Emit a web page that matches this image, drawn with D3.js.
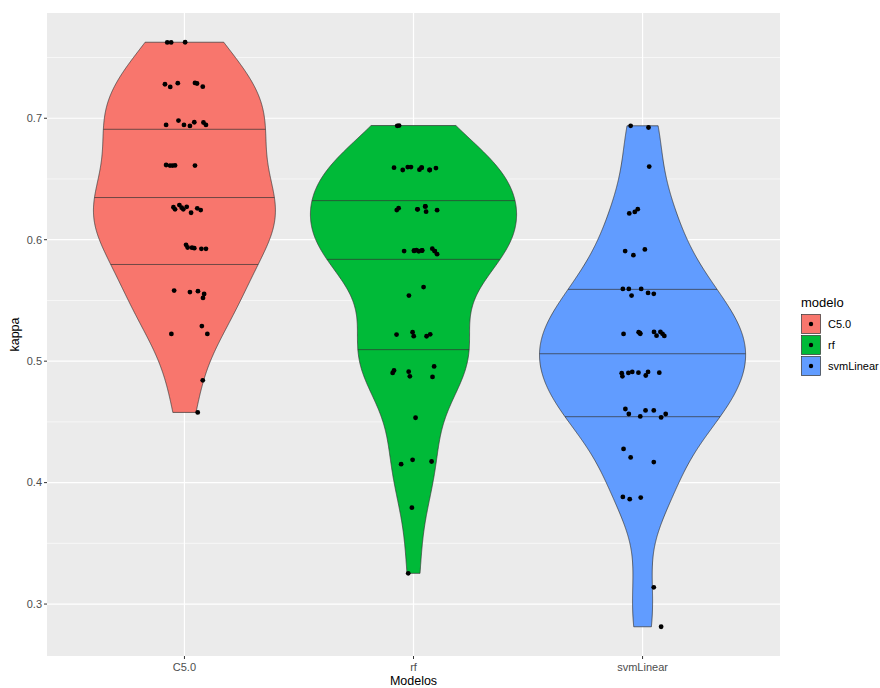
<!DOCTYPE html>
<html>
<head>
<meta charset="utf-8">
<script src="https://cdn.jsdelivr.net/npm/d3@7"></script>
<style>
  body { margin: 0; background: #ffffff; }
  text { font-family: "Liberation Sans", Arial, sans-serif; }
</style>
</head>
<body>
<svg id="chart" width="880" height="688"></svg>
<script>
// Models compared and their fill colours
const models = ["C5.0", "rf", "svmLinear"];
const fills = ["#F8766D", "#00BA38", "#619CFF"];

// Y axis ticks
const yMajor = [0.3, 0.4, 0.5, 0.6, 0.7];
const yMinor = [0.35, 0.45, 0.55, 0.65, 0.75];

// Resampled kappa values per model, with the horizontal jitter of each dot (in category steps)
const kappaC50 = [
  0.7624, 0.7624, 0.7626,
  0.7280, 0.7258, 0.7289, 0.7291, 0.7286, 0.7260,
  0.6945, 0.6981, 0.6945, 0.6937, 0.6967, 0.6965, 0.6945,
  0.6615, 0.6610, 0.6610, 0.6612, 0.6610,
  0.6268, 0.6250, 0.6285, 0.6264, 0.6250, 0.6271, 0.6222, 0.6258, 0.6244,
  0.5958, 0.5936, 0.5934, 0.5930, 0.5925, 0.5925,
  0.5581, 0.5569, 0.5576, 0.5553, 0.5521,
  0.5224, 0.5289, 0.5224,
  0.4842,
  0.4578
];
const jitterC50 = [
  -0.075, -0.058, 0.003,
  -0.085, -0.062, -0.029, 0.046, 0.055, 0.080,
  -0.080, -0.026, -0.002, 0.024, 0.043, 0.083, 0.094,
  -0.080, -0.063, -0.052, -0.041, 0.046,
  -0.048, -0.041, -0.022, -0.012, -0.005, 0.010, 0.029, 0.056, 0.071,
  0.007, 0.014, 0.033, 0.043, 0.074, 0.094,
  -0.045, 0.024, 0.059, 0.086, 0.081,
  -0.057, 0.076, 0.100,
  0.080,
  0.058
];

const kappaRf = [
  0.6938, 0.6940,
  0.6593, 0.6574, 0.6598, 0.6598, 0.6577, 0.6593, 0.6574, 0.6590, 0.6593, 0.6574,
  0.6244, 0.6260, 0.6250, 0.6274, 0.6231, 0.6243, 0.6250, 0.6274,
  0.5906, 0.5909, 0.5914, 0.5905, 0.5911, 0.5926, 0.5906, 0.5881, 0.5909, 0.5911, 0.5906,
  0.5610, 0.5540,
  0.5219, 0.5239, 0.5206, 0.5205, 0.5221,
  0.4923, 0.4903, 0.4913, 0.4875, 0.4957, 0.4870,
  0.4534,
  0.4152, 0.4188, 0.4174,
  0.3794,
  0.3253
];
const jitterRf = [
  -0.071, -0.063,
  -0.085, -0.047, -0.025, -0.011, 0.026, 0.035, 0.070, 0.098, 0.036, 0.071,
  -0.073, -0.065, 0.017, 0.051, 0.055, 0.103, 0.018, 0.052,
  -0.041, 0.002, 0.013, 0.023, 0.037, 0.082, 0.092, 0.103, 0.003, 0.038, 0.093,
  0.044, -0.020,
  -0.074, -0.004, 0.001, 0.057, 0.073,
  -0.085, -0.091, -0.021, -0.016, 0.090, 0.083,
  0.009,
  -0.054, -0.004, 0.079,
  -0.007,
  -0.023
];

const kappaSvm = [
  0.6938, 0.6924,
  0.6602,
  0.6216, 0.6229, 0.6251,
  0.5906, 0.5873, 0.5920,
  0.5595, 0.5595, 0.5540, 0.5595, 0.5562, 0.5554,
  0.5224, 0.5238, 0.5225, 0.5230, 0.5241, 0.5210, 0.5241, 0.5225, 0.5208,
  0.4901, 0.4875, 0.4903, 0.4911, 0.4905, 0.4882, 0.4911, 0.4905,
  0.4606, 0.4565, 0.4545, 0.4594, 0.4594, 0.4537, 0.4565,
  0.4277, 0.4207, 0.4169,
  0.3882, 0.3864, 0.3877,
  0.3138,
  0.2813
];
const jitterSvm = [
  -0.052, 0.026,
  0.029,
  -0.058, -0.034, -0.021,
  -0.076, -0.040, 0.010,
  -0.086, -0.060, -0.048, -0.006, 0.024, 0.049,
  -0.083, -0.017, -0.010, -0.011, 0.050, 0.061, 0.078, 0.087, 0.095,
  -0.091, -0.088, -0.062, -0.045, -0.018, 0.014, 0.024, 0.073,
  -0.075, -0.060, -0.010, 0.013, 0.049, 0.081, 0.101,
  -0.083, -0.052, 0.049,
  -0.086, -0.056, -0.008,
  0.049,
  0.081
];

const quantileProbs = [0.25, 0.5, 0.75];

const groups = [
  { model: models[0], fill: fills[0], kappa: kappaC50, jitter: jitterC50 },
  { model: models[1], fill: fills[1], kappa: kappaRf, jitter: jitterRf },
  { model: models[2], fill: fills[2], kappa: kappaSvm, jitter: jitterSvm }
];

const svg = d3.select("#chart");
const panel = { left: 47, right: 780, top: 13, bottom: 656 };

const allKappa = groups.flatMap(g => g.kappa);
const [kMin, kMax] = d3.extent(allKappa);
const pad = (kMax - kMin) * 0.05;

const x = d3.scalePoint().domain(models).range([panel.left, panel.right]).padding(0.6);
const y = d3.scaleLinear().domain([kMin - pad, kMax + pad]).range([panel.bottom, panel.top]);
const step = x.step();

// Gaussian kernel density with Silverman's rule-of-thumb bandwidth (bw.nrd0)
function bandwidth(values) {
  const s = [...values].sort(d3.ascending);
  const sd = d3.deviation(s);
  const iqr = (d3.quantile(s, 0.75) - d3.quantile(s, 0.25)) / 1.34;
  let lo = Math.min(sd, iqr);
  if (!(lo > 0)) lo = sd || 1;
  return 0.9 * lo * Math.pow(s.length, -0.2);
}
function densityCurve(values, n = 512) {
  const bw = bandwidth(values);
  const [a, b] = d3.extent(values);
  const norm = 1 / (values.length * bw * Math.sqrt(2 * Math.PI));
  return d3.range(n).map(i => {
    const v = a + (b - a) * i / (n - 1);
    let s = 0;
    for (const k of values) { const z = (v - k) / bw; s += Math.exp(-0.5 * z * z); }
    return { v, d: s * norm };
  });
}
groups.forEach(g => { g.dens = densityCurve(g.kappa); });
const maxDens = d3.max(groups, g => d3.max(g.dens, p => p.d));
const halfMax = 0.45 * step;  // violins use 90% of a category step at their widest

function interp(xs, ys, t) {
  const i = d3.bisectLeft(xs, t);
  if (i <= 0) return ys[0];
  if (i >= xs.length) return ys[ys.length - 1];
  const f = (t - xs[i - 1]) / (xs[i] - xs[i - 1] || 1);
  return ys[i - 1] + f * (ys[i] - ys[i - 1]);
}

// Panel background and grid
svg.append("rect")
  .attr("x", panel.left).attr("y", panel.top)
  .attr("width", panel.right - panel.left).attr("height", panel.bottom - panel.top)
  .attr("fill", "#EBEBEB");

const grid = svg.append("g");
grid.selectAll("line.minor").data(yMinor.filter(v => y(v) >= panel.top && y(v) <= panel.bottom))
  .join("line").attr("class", "minor")
  .attr("x1", panel.left).attr("x2", panel.right)
  .attr("y1", d => y(d)).attr("y2", d => y(d))
  .attr("stroke", "#ffffff").attr("stroke-width", 0.6);
grid.selectAll("line.major").data(yMajor)
  .join("line").attr("class", "major")
  .attr("x1", panel.left).attr("x2", panel.right)
  .attr("y1", d => y(d)).attr("y2", d => y(d))
  .attr("stroke", "#ffffff").attr("stroke-width", 1.2);
grid.selectAll("line.vmajor").data(models)
  .join("line").attr("class", "vmajor")
  .attr("x1", d => x(d)).attr("x2", d => x(d))
  .attr("y1", panel.top).attr("y2", panel.bottom)
  .attr("stroke", "#ffffff").attr("stroke-width", 1.2);

// Violins with quartile lines
const violins = svg.append("g");
groups.forEach(g => {
  const cx = x(g.model);
  const w = p => (p.d / maxDens) * halfMax;
  const area = d3.area()
    .y(p => y(p.v))
    .x0(p => cx - w(p))
    .x1(p => cx + w(p));
  violins.append("path")
    .datum(g.dens)
    .attr("d", area)
    .attr("fill", g.fill)
    .attr("stroke", "#333333")
    .attr("stroke-width", 0.7);

  const total = d3.sum(g.dens, p => p.d);
  const cdf = Array.from(d3.cumsum(g.dens, p => p.d), c => c / total);
  const vs = g.dens.map(p => p.v);
  const ws = g.dens.map(w);
  quantileProbs.forEach(q => {
    const vq = interp(cdf, vs, q);
    const wq = interp(vs, ws, vq);
    violins.append("line")
      .attr("x1", cx - wq).attr("x2", cx + wq)
      .attr("y1", y(vq)).attr("y2", y(vq))
      .attr("stroke", "#333333").attr("stroke-width", 0.7);
  });
});

// Jittered observations
const dots = svg.append("g");
groups.forEach(g => {
  dots.selectAll(null)
    .data(g.kappa.map((k, i) => ({ k, j: g.jitter[i] })))
    .join("circle")
    .attr("cx", d => x(g.model) + d.j * step)
    .attr("cy", d => y(d.k))
    .attr("r", 2.4)
    .attr("fill", "#000000");
});

// Axes
const axisColor = "#333333";
const labelColor = "#4D4D4D";
const yAxis = svg.append("g");
yAxis.selectAll("line").data(yMajor).join("line")
  .attr("x1", panel.left - 3).attr("x2", panel.left)
  .attr("y1", d => y(d)).attr("y2", d => y(d))
  .attr("stroke", axisColor).attr("stroke-width", 1);
yAxis.selectAll("text").data(yMajor).join("text")
  .attr("x", panel.left - 5).attr("y", d => y(d))
  .attr("dy", "0.35em").attr("text-anchor", "end")
  .attr("font-size", 11).attr("fill", labelColor)
  .text(d => d3.format(".1f")(d));

const xAxis = svg.append("g");
xAxis.selectAll("line").data(models).join("line")
  .attr("x1", d => x(d)).attr("x2", d => x(d))
  .attr("y1", panel.bottom).attr("y2", panel.bottom + 3)
  .attr("stroke", axisColor).attr("stroke-width", 1);
xAxis.selectAll("text").data(models).join("text")
  .attr("x", d => x(d)).attr("y", panel.bottom + 15)
  .attr("text-anchor", "middle")
  .attr("font-size", 11).attr("fill", labelColor)
  .text(d => d);

svg.append("text")
  .attr("x", (panel.left + panel.right) / 2).attr("y", panel.bottom + 28.5)
  .attr("text-anchor", "middle").attr("font-size", 12.5).attr("fill", "#000")
  .text("Modelos");
svg.append("text")
  .attr("transform", `translate(19,${(panel.top + panel.bottom) / 2}) rotate(-90)`)
  .attr("text-anchor", "middle").attr("font-size", 12.5).attr("fill", "#000")
  .text("kappa");

// Legend
const legend = svg.append("g").attr("transform", "translate(801,0)");
legend.append("text").attr("x", 0).attr("y", 307)
  .attr("font-size", 13).attr("fill", "#000").text("modelo");
const keys = legend.selectAll("g.key").data(groups).join("g")
  .attr("class", "key")
  .attr("transform", (d, i) => `translate(0,${314 + i * 21})`);
keys.append("rect")
  .attr("x", 0.5).attr("y", 0.5).attr("width", 19).attr("height", 19)
  .attr("fill", d => d.fill).attr("stroke", "#333333").attr("stroke-width", 0.7);
keys.append("circle").attr("cx", 10).attr("cy", 10).attr("r", 2.2).attr("fill", "#000");
keys.append("text").attr("x", 27).attr("y", 10).attr("dy", "0.35em")
  .attr("font-size", 11).attr("fill", "#000").text(d => d.model);
</script>
</body>
</html>
